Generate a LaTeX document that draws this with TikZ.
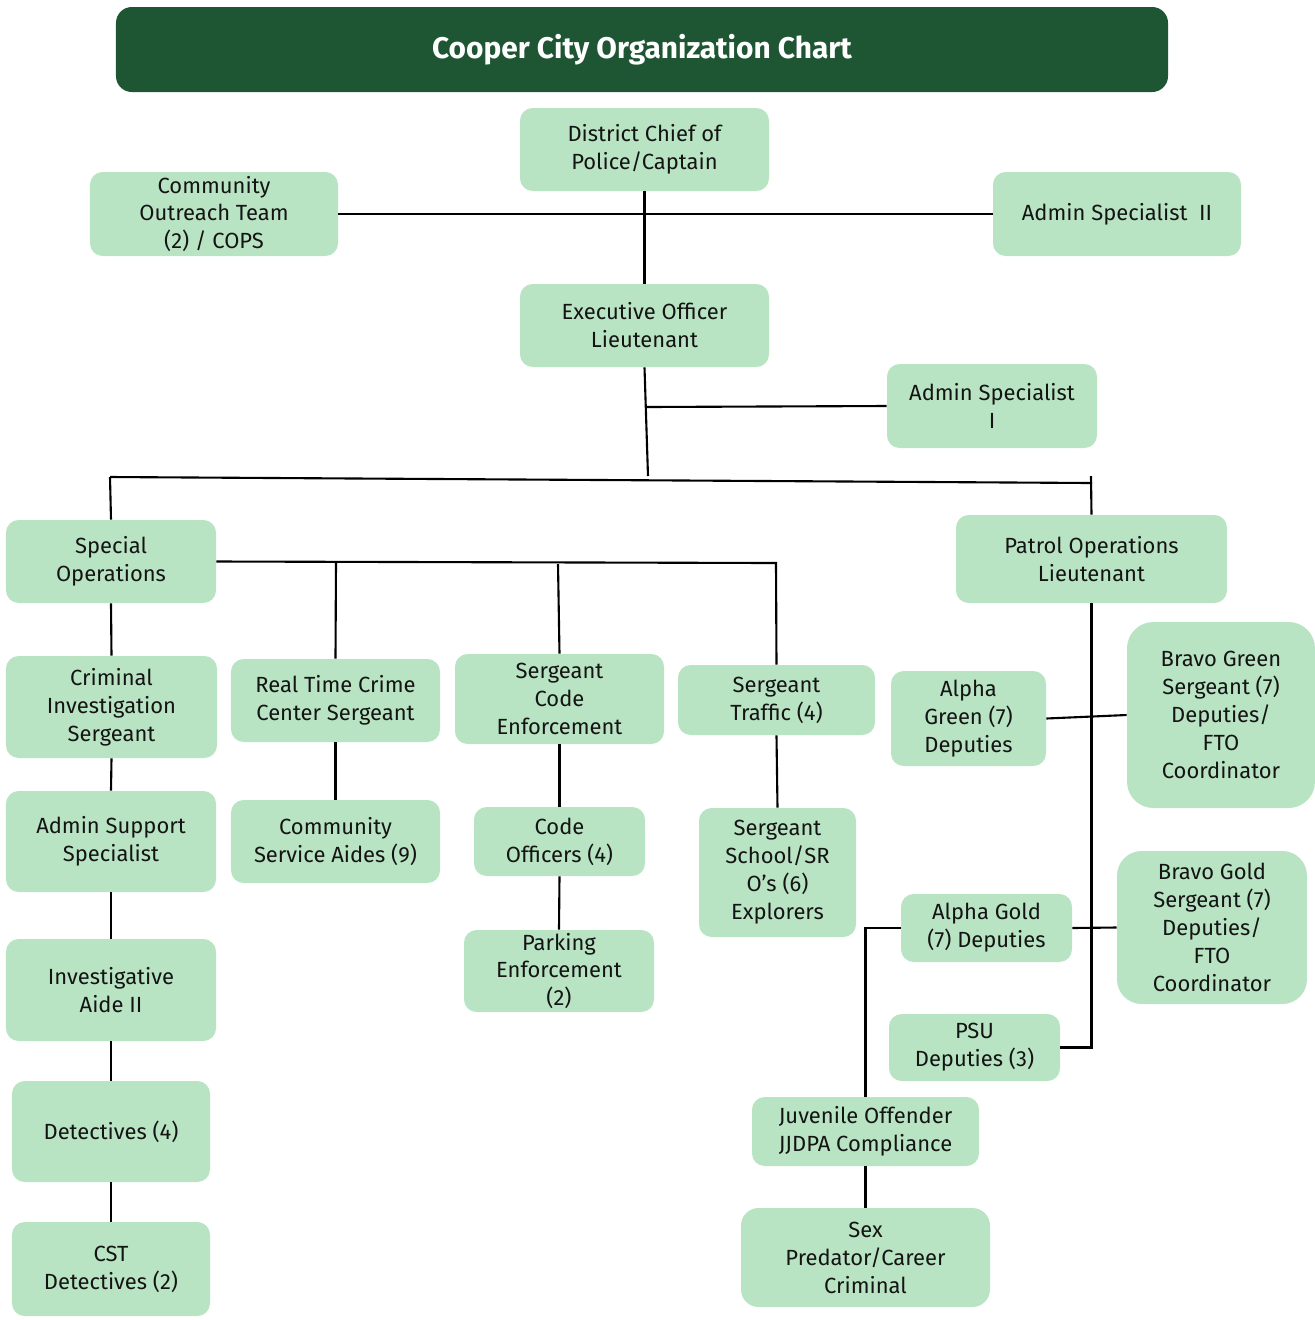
\documentclass[tikz,border=0pt]{standalone}
\usepackage{fontspec}
\setmainfont{Fira Sans}
\definecolor{boxgreen}{HTML}{B9E4C3}
\definecolor{titlegreen}{HTML}{1E5633}
\definecolor{inkdark}{HTML}{141414}
\tikzset{
  box/.style={fill=boxgreen, rounded corners=12pt*0.6, align=center, inner sep=0pt,
    text=inkdark, font=\fontsize{12.5}{15.9}\selectfont},
  link/.style={draw=black, line width=1.2pt},
}
% box given by its pixel corners (x1,y1)-(x2,y2)
\newcommand\chartbox[7][]{%
  \pgfmathsetmacro\bxw{(#5-#3)*0.02}%
  \pgfmathsetmacro\bxh{(#6-#4)*0.02}%
  \node[box, minimum width=\bxw cm, minimum height=\bxh cm, #1] (#2)
    at ({(#3+#5)/2},{(#4+#6)/2}) {#7};}
\begin{document}
\begin{tikzpicture}[x=0.02cm, y=-0.02cm]
\useasboundingbox (0,0) rectangle (1315,1320);

% heading bar
\chartbox[fill=titlegreen, text=white, rounded corners=9pt,
  font=\fontsize{17}{20}\selectfont\bfseries]{title}{116}{7}{1168}{92}{\raisebox{-2pt}{Cooper City Organization Chart}}

% top level
\chartbox{chief}{520}{108}{769}{191}{District Chief of\\Police/Captain}
\chartbox{outreach}{90}{172}{338}{256}{Community\\Outreach Team\\(2) / COPS}
\chartbox{adm2}{993}{172}{1241}{256}{Admin Specialist\ \ II}
\chartbox{exec}{520}{284}{769}{367}{Executive Officer\\Lieutenant}
\chartbox{adm1}{887}{364}{1097}{448}{Admin Specialist\\I}

% divisions
\chartbox{specops}{6}{520}{216}{603}{Special\\Operations}
\chartbox{patrol}{956}{515}{1227}{603}{Patrol Operations\\Lieutenant}

% special operations column
\chartbox{cis}{6}{656}{217}{758}{Criminal\\Investigation\\Sergeant}
\chartbox{ass}{6}{791}{216}{892}{Admin Support\\Specialist}
\chartbox{aide}{6}{939}{216}{1041}{Investigative\\Aide II}
\chartbox{det}{12}{1081}{210}{1182}{Detectives (4)}
\chartbox{cst}{12}{1222}{210}{1316}{CST\\Detectives (2)}

\chartbox{rtcc}{231}{659}{440}{742}{Real Time Crime\\Center Sergeant}
\chartbox{csa}{231}{800}{440}{883}{Community\\Service Aides (9)}

\chartbox{codeenf}{455}{654}{664}{744}{Sergeant\\Code\\Enforcement}
\chartbox{codeoff}{474}{807}{645}{876}{Code\\Officers (4)}
\chartbox{parking}{464}{930}{654}{1012}{Parking\\Enforcement\\(2)}

\chartbox{traffic}{678}{665}{875}{735}{Sergeant\\Traffic (4)}
\chartbox{school}{699}{808}{856}{937}{Sergeant\\School/SR\\O’s (6)\\Explorers}

% patrol side
\chartbox{agreen}{891}{671}{1046}{766}{Alpha\\Green (7)\\Deputies}
\chartbox[rounded corners=15pt]{bgreen}{1127}{622}{1315}{808}{Bravo Green\\Sergeant (7)\\Deputies/\\FTO\\Coordinator}
\chartbox{agold}{901}{894}{1072}{962}{Alpha Gold\\(7) Deputies}
\chartbox[rounded corners=14pt]{bgold}{1117}{851}{1307}{1004}{Bravo Gold\\Sergeant (7)\\Deputies/\\FTO\\Coordinator}
\chartbox{psu}{889}{1014}{1060}{1081}{PSU\\Deputies (3)}
\chartbox{juv}{752}{1097}{979}{1166}{Juvenile Offender\\JJDPA Compliance}
\chartbox[rounded corners=10pt]{sex}{741}{1208}{990}{1307}{Sex\\Predator/Career\\Criminal}

% junction points
\coordinate (execfoot) at (648,476);
\coordinate (admtap) at (646,407);
\coordinate (barL) at (110,477);
\coordinate (barR) at (1092,483);
\coordinate (barRtop) at (1091,476);
\coordinate (spEnd) at (776,563);
\coordinate (spA) at (336,562);
\coordinate (spB) at (558,564);

% top level links
\draw[link] (chief.south) -- (exec.north);
\draw[link] (outreach.east) -- (adm2.west);
\draw[link] (exec.south) -- (execfoot);
\draw[link] (admtap) -- (adm1.west);

% main distribution bar
\draw[link] (barL) -- (barR);
\draw[link] (barL) -- (specops.north);
\draw[link] (barRtop) -- (patrol.north);

% special operations branches
\draw[link] (specops.east) -- (spEnd) -- (traffic.north);
\draw[link] (spA) -- (rtcc.north);
\draw[link] (spB) -- (codeenf.north);
\draw[link] (specops.south) -- (cis.north);
\draw[link] (cis.south) -- (ass.north);
\draw[link] (ass.south) -- (aide.north);
\draw[link] (aide.south) -- (det.north);
\draw[link] (det.south) -- (cst.north);
\draw[link] (rtcc.south) -- (csa.north);
\draw[link] (codeenf.south) -- (codeoff.north);
\draw[link] (codeoff.south) -- (parking.north);
\draw[link] (traffic.south) -- (school.north);

% patrol branches
\draw[link] (patrol.south) |- (psu.east);
\draw[link] (agreen.east) -- (bgreen.west);
\draw[link] (agold.east) -- (bgold.west);
\draw[link] (agold.west) -| (juv.north);
\draw[link] (juv.south) -- (sex.north);
\end{tikzpicture}
\end{document}
